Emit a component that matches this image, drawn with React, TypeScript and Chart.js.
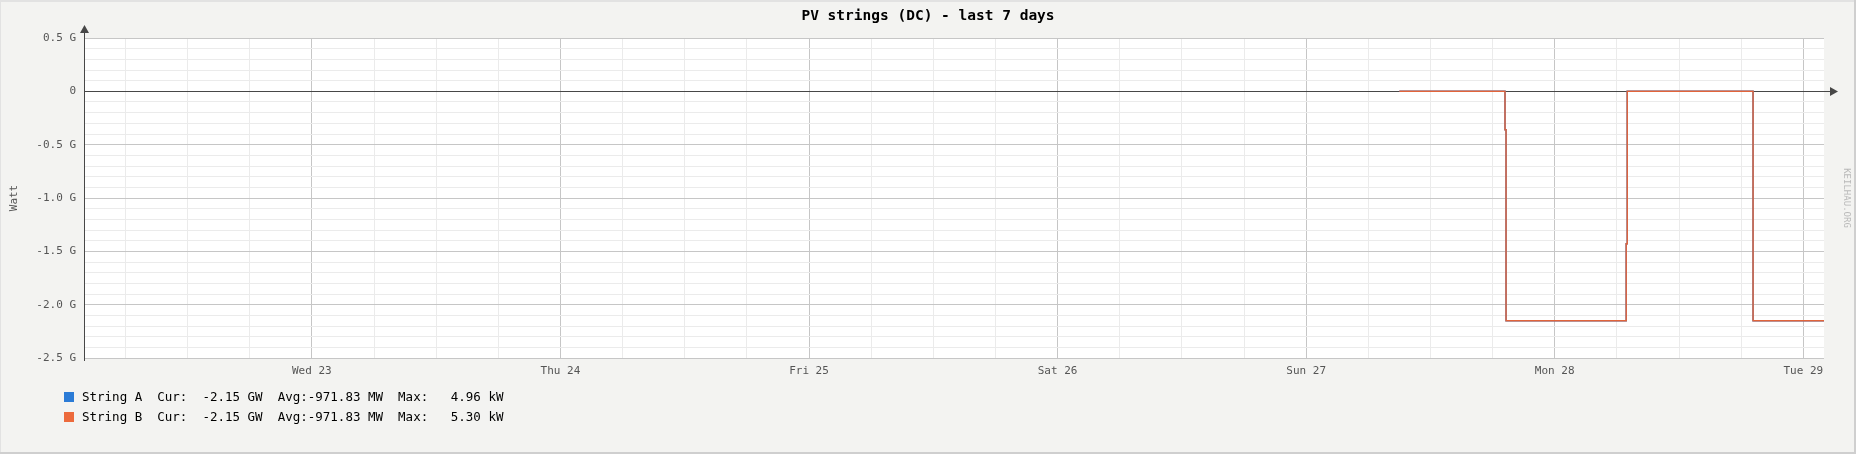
import React, { useEffect, useRef } from "react";
import { Chart, registerables } from "chart.js";

Chart.register(...registerables);

// ---- data ----
const stepHours = [129, 139.2, 139.3, 150.9, 151.0, 163.15, 170];
const stringAWatts = [0, -0.36e9, -2.15e9, -1.43e9, 0, -2.15e9, -2.15e9];
const stringBWatts = [0, -0.36e9, -2.15e9, -1.43e9, 0, -2.15e9, -2.15e9];
const dayHours = [24, 48, 72, 96, 120, 144, 168];
const dayLabels = ["Wed 23", "Thu 24", "Fri 25", "Sat 26", "Sun 27", "Mon 28", "Tue 29"];
const legendRows = [
  { name: "String A", color: "#2b7bd6", text: "String A  Cur:  -2.15 GW  Avg:-971.83 MW  Max:   4.96 kW" },
  { name: "String B", color: "#ec6a3c", text: "String B  Cur:  -2.15 GW  Avg:-971.83 MW  Max:   5.30 kW" },
];
const titleText = "PV strings (DC) - last 7 days";
const yTitle = "Watt";
const watermark = "KEILHAU.ORG";

const W = 1856;
const H = 454;
const LEFT = 84;
const RIGHT = 1824;
const TOP = 38;
const BOTTOM = 358;
const MONO = "'DejaVu Sans Mono', monospace";

export default function App() {
  const ref = useRef<HTMLCanvasElement | null>(null);

  useEffect(() => {
    document.body.style.margin = "0";
    const canvas = ref.current!;
    const decor = {
      id: "decor",
      beforeDraw(chart: any) {
        const c = chart.ctx;
        c.save();
        c.fillStyle = "#f3f3f1";
        c.fillRect(0, 0, W, H);
        c.fillStyle = "#e2e2e2";
        c.fillRect(0, 0, W, 2);
        c.fillRect(0, 0, 1, H);
        c.fillStyle = "#cfcfcf";
        c.fillRect(W - 2, 0, 2, H);
        c.fillRect(0, H - 2, W, 2);
        const a = chart.chartArea;
        c.fillStyle = "#ffffff";
        c.fillRect(a.left, a.top, a.right - a.left, a.bottom - a.top);
        c.restore();
      },
      beforeDatasetsDraw(chart: any) {
        const c = chart.ctx;
        const a = chart.chartArea;
        const y0 = Math.round(chart.scales.y.getPixelForValue(0)) + 0.5;
        c.save();
        c.strokeStyle = "#474747";
        c.fillStyle = "#474747";
        c.lineWidth = 1;
        // x axis at zero
        c.beginPath();
        c.moveTo(a.left, y0);
        c.lineTo(a.right + 8, y0);
        c.stroke();
        c.beginPath();
        c.moveTo(a.right + 6, y0 - 4.5);
        c.lineTo(a.right + 14, y0);
        c.lineTo(a.right + 6, y0 + 4.5);
        c.closePath();
        c.fill();
        // y axis
        const xl = a.left + 0.5;
        c.beginPath();
        c.moveTo(xl, a.bottom + 3);
        c.lineTo(xl, a.top - 6);
        c.stroke();
        c.beginPath();
        c.moveTo(xl - 4.5, a.top - 5);
        c.lineTo(xl, a.top - 13);
        c.lineTo(xl + 4.5, a.top - 5);
        c.closePath();
        c.fill();
        c.restore();
      },
      afterDraw(chart: any) {
        const c = chart.ctx;
        c.save();
        // title
        c.fillStyle = "#000";
        c.font = `bold 14.5px ${MONO}`;
        c.textAlign = "center";
        c.textBaseline = "middle";
        c.fillText(titleText, W / 2, 16);
        // y title
        c.save();
        c.translate(14, (TOP + BOTTOM) / 2);
        c.rotate(-Math.PI / 2);
        c.fillStyle = "#555";
        c.font = `11px ${MONO}`;
        c.fillText(yTitle, 0, 0);
        c.restore();
        // watermark
        c.save();
        c.translate(1846, 198);
        c.rotate(Math.PI / 2);
        c.fillStyle = "#b8b8b8";
        c.font = `9px ${MONO}`;
        c.fillText(watermark, 0, 0);
        c.restore();
        // legend
        c.font = `12.5px ${MONO}`;
        c.textAlign = "left";
        legendRows.forEach((r, i) => {
          const yc = 397 + i * 20;
          c.fillStyle = r.color;
          c.fillRect(64, yc - 5, 10, 10);
          c.fillStyle = "#000";
          c.fillText(r.text, 82, yc + 0.5);
        });
        c.restore();
      },
    };

    const chart = new Chart(canvas, {
      type: "line",
      data: {
        datasets: [
          {
            label: legendRows[1].name,
            data: stepHours.map((h, i) => ({ x: h, y: stringBWatts[i] })),
            borderColor: "#e2643a",
            borderWidth: 1.5,
            stepped: "before",
            pointRadius: 0,
            order: 0,
          },
          {
            label: legendRows[0].name,
            data: stepHours.map((h, i) => ({ x: h, y: stringAWatts[i] })),
            borderColor: "#2b7bd6",
            borderWidth: 1.5,
            stepped: "before",
            pointRadius: 0,
            order: 1,
          },
        ],
      },
      options: {
        animation: false,
        responsive: false,
        devicePixelRatio: 1,
        layout: { padding: { left: 0, top: TOP, right: W - RIGHT, bottom: 0 } },
        plugins: { legend: { display: false }, tooltip: { enabled: false }, title: { display: false } },
        scales: {
          x: {
            type: "linear",
            min: 2,
            max: 170,
            afterBuildTicks(scale: any) {
              const t = [];
              for (let h = 6; h <= 168; h += 6) t.push({ value: h });
              scale.ticks = t;
            },
            afterFit(scale: any) {
              scale.height = H - BOTTOM;
            },
            border: { display: false },
            grid: {
              drawTicks: false,
              tickLength: 0,
              color: (ctx: any) => (ctx.tick && ctx.tick.value % 24 === 0 ? "#c6c6c6" : "#ebebeb"),
            },
            ticks: {
              autoSkip: false,
              maxRotation: 0,
              padding: 7,
              color: "#555",
              font: { family: MONO, size: 11 },
              callback: (v: any) => {
                const i = dayHours.indexOf(Number(v));
                return i >= 0 ? dayLabels[i] : "";
              },
            },
          },
          y: {
            type: "linear",
            min: -2.5e9,
            max: 0.5e9,
            afterBuildTicks(scale: any) {
              const t = [];
              for (let k = -25; k <= 5; k++) t.push({ value: k * 1e8 });
              scale.ticks = t;
            },
            afterFit(scale: any) {
              scale.width = LEFT;
            },
            border: { display: false },
            grid: {
              drawTicks: false,
              tickLength: 0,
              color: (ctx: any) => {
                const k = Math.round((ctx.tick ? ctx.tick.value : 0) / 1e8);
                return k % 5 === 0 ? "#c6c6c6" : "#ebebeb";
              },
            },
            ticks: {
              autoSkip: false,
              padding: 8,
              color: "#555",
              font: { family: MONO, size: 11 },
              callback: (v: any) => {
                const k = Math.round(Number(v) / 1e8);
                if (k % 5 !== 0) return "";
                if (k === 0) return "0";
                return (k / 10).toFixed(1) + " G";
              },
            },
          },
        },
      },
      plugins: [decor],
    } as any);

    return () => chart.destroy();
  }, []);

  return (
    <div style={{ position: "absolute", left: 0, top: 0, width: W, height: H }}>
      <canvas ref={ref} width={W} height={H} style={{ display: "block", width: W, height: H }} />
    </div>
  );
}
